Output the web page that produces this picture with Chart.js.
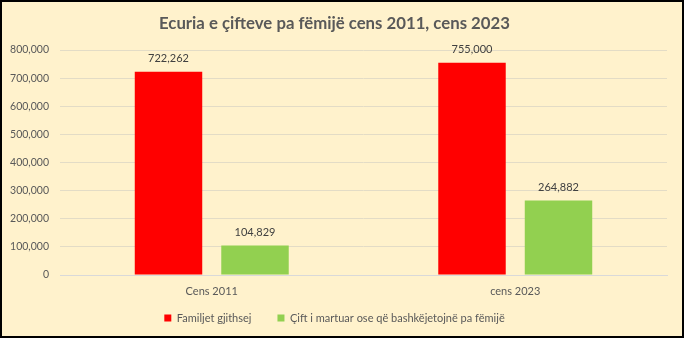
<!DOCTYPE html>
<html lang="sq">
<head>
<meta charset="UTF-8">
<title>Ecuria e çifteve pa fëmijë</title>
<style>
    body { margin: 0; padding: 0; background: #fff; }
    .frame {
        width: 684px;
        height: 338px;
        box-sizing: border-box;
        border: 2px solid #000;
        background: #FFF2CC;
        position: relative;
    }
    .frame canvas { display: block; }
</style>
</head>
<body>
<div class="frame">
    <canvas id="chart"></canvas>
</div>
<script src="https://cdn.jsdelivr.net/npm/chart.js"></script>
<script>
    // Chart data
    const categories = ['Cens 2011', 'cens 2023'];
    const seriesNames = ['Familjet gjithsej', 'Çift i martuar ose që bashkëjetojnë pa fëmijë'];
    const familjet = [722262, 755000];
    const ciftPaFemije = [104829, 264882];
    const yTicks = [0, 100000, 200000, 300000, 400000, 500000, 600000, 700000, 800000];

    const fmt = v => v.toLocaleString('en-US');
    const FONT = 'Lato, "Open Sans", sans-serif';
    const LEGEND_PAD = 26;
    const LEGEND_SIZE = 11;

    // draw value labels above the bars
    const valueLabels = {
        id: 'valueLabels',
        afterDatasetsDraw(chart) {
            const ctx = chart.ctx;
            ctx.save();
            ctx.font = '11px ' + FONT;
            ctx.fillStyle = '#404040';
            ctx.textAlign = 'center';
            ctx.textBaseline = 'middle';
            chart.data.datasets.forEach((ds, i) => {
                chart.getDatasetMeta(i).data.forEach((bar, j) => {
                    ctx.fillText(fmt(ds.data[j]), bar.x, bar.y - 13);
                });
            });
            ctx.restore();
        }
    };

    // the legend padding is wide between items, so keep its box short
    // and move it up a bit after layout
    const legendFit = {
        id: 'legendFit',
        beforeInit(chart) {
            const legend = chart.legend;
            const fit = legend.fit;
            legend.fit = function () {
                fit.call(this);
                this.height = 34;
            };
        },
        afterLayout(chart) {
            const legend = chart.legend;
            legend.top = 316 - LEGEND_PAD - LEGEND_SIZE / 2;
            legend.bottom = chart.height;
        }
    };

    new Chart(document.getElementById('chart'), {
        type: 'bar',
        data: {
            labels: categories,
            datasets: [{
                label: seriesNames[0],
                data: familjet,
                backgroundColor: '#FF0000'
            }, {
                label: seriesNames[1],
                data: ciftPaFemije,
                backgroundColor: '#92D050'
            }]
        },
        options: {
            responsive: true,
            maintainAspectRatio: false,
            animation: false,
            categoryPercentage: 0.57,
            barPercentage: 0.78,
            layout: { padding: { left: 0, right: 15, top: 0, bottom: 0 } },
            plugins: {
                title: {
                    display: true,
                    text: 'Ecuria e çifteve pa fëmijë cens 2011, cens 2023',
                    color: '#595959',
                    font: { family: FONT, size: 16.75, weight: 'bold' },
                    padding: { top: 11.2, bottom: 16.7 }
                },
                legend: {
                    position: 'bottom',
                    labels: {
                        color: '#595959',
                        font: { family: FONT, size: LEGEND_SIZE },
                        boxWidth: 7,
                        boxHeight: 7,
                        padding: LEGEND_PAD
                    }
                },
                tooltip: { enabled: false }
            },
            scales: {
                x: {
                    afterFit: axis => { axis.height = 27; },
                    grid: { display: false, drawTicks: false },
                    border: { color: '#D9D9D9' },
                    ticks: {
                        color: '#595959',
                        font: { family: FONT, size: 11 },
                        padding: 10
                    }
                },
                y: {
                    min: 0,
                    max: 800000,
                    afterFit: axis => { axis.width = 58; },
                    afterBuildTicks: axis => { axis.ticks = yTicks.map(v => ({ value: v })); },
                    grid: { color: '#E3DCC6', drawTicks: false },
                    border: { display: false },
                    ticks: {
                        color: '#595959',
                        font: { family: FONT, size: 10.5 },
                        padding: 11,
                        callback: v => fmt(v)
                    }
                }
            }
        },
        plugins: [valueLabels, legendFit]
    });
</script>
</body>
</html>
